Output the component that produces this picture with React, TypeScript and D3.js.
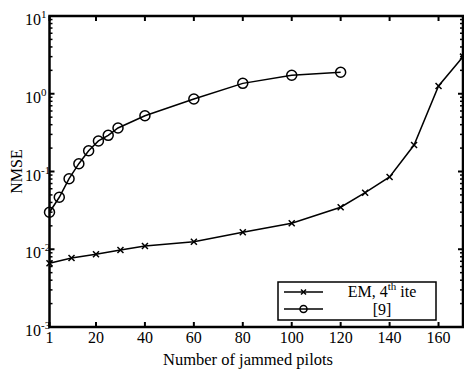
import React from "react";
import * as d3 from "d3";

const emX = [1, 10, 20, 30, 40, 60, 80, 100, 120, 130, 140, 150, 160, 170];
const emY = [0.0066, 0.0077, 0.0086, 0.0098, 0.011, 0.0125, 0.0165, 0.0216, 0.0347, 0.0534, 0.085, 0.219, 1.26, 3.0];
const refX = [1, 5, 9, 13, 17, 21, 25, 29, 40, 60, 80, 100, 120];
const refY = [0.0299, 0.0466, 0.0808, 0.126, 0.185, 0.247, 0.292, 0.363, 0.522, 0.857, 1.36, 1.73, 1.89];
const xTicks = [1, 20, 40, 60, 80, 100, 120, 140, 160];
const yExps = [1, 0, -1, -2, -3];
const legendLabels = ["EM, 4", "[9]"];

const W = 464, H = 371;
const L = 49.5, R = 463, T = 16, B = 327;

export default function App() {
  const x = d3.scaleLinear().domain([1, 170]).range([L, R]);
  const y = d3.scaleLog().domain([1e-3, 10]).range([B, T]);
  const line = d3.line<[number, number]>().x(d => x(d[0])).y(d => y(d[1]));
  const emPts: [number, number][] = emX.map((v, i) => [v, emY[i]]);
  const refPts: [number, number][] = refX.map((v, i) => [v, refY[i]]);
  const minor: number[] = [];
  for (let e = -3; e < 1; e++) for (let k = 2; k <= 9; k++) minor.push(k * Math.pow(10, e));
  const font = '"Liberation Serif", "Times New Roman", Times, serif';
  const lx0 = 278, lx1 = 436, ly0 = 282, ly1 = 320;
  const xs = (px: number, py: number, s = 3) =>
    `M${px - s},${py - s}L${px + s},${py + s}M${px - s},${py + s}L${px + s},${py - s}`;
  return (
    <svg width={W} height={H} style={{ position: "absolute", left: 0, top: 0, background: "#fff", fontFamily: font }}>
      <rect x={0} y={0} width={W} height={H} fill="#fff" />
      <path d={line(refPts) || ""} fill="none" stroke="#000" strokeWidth={1.5} />
      {refPts.map((p, i) => (
        <circle key={"c" + i} cx={x(p[0])} cy={y(p[1])} r={5} fill="none" stroke="#000" strokeWidth={1.5} />
      ))}
      <path d={line(emPts) || ""} fill="none" stroke="#000" strokeWidth={1.5} />
      {emPts.map((p, i) => (
        <path key={"x" + i} d={xs(x(p[0]), y(p[1]))} stroke="#000" strokeWidth={1.5} />
      ))}
      <rect x={L} y={T} width={R - L} height={B - T} fill="none" stroke="#000" strokeWidth={2.5} />
      {xTicks.map(t => (
        <g key={"xt" + t}>
          <line x1={x(t)} x2={x(t)} y1={B} y2={B - 5} stroke="#000" strokeWidth={2} />
          <line x1={x(t)} x2={x(t)} y1={T} y2={T + 5} stroke="#000" strokeWidth={2} />
          <text x={x(t)} y={343} textAnchor="middle" fontSize={16}>{t}</text>
        </g>
      ))}
      {yExps.map(e => (
        <g key={"yt" + e}>
          <line x1={L} x2={L + 5} y1={y(Math.pow(10, e))} y2={y(Math.pow(10, e))} stroke="#000" strokeWidth={2} />
          <line x1={R} x2={R - 5} y1={y(Math.pow(10, e))} y2={y(Math.pow(10, e))} stroke="#000" strokeWidth={2} />
          <text x={25} y={y(Math.pow(10, e)) + 9} fontSize={16}>
            10<tspan dy={-7} fontSize={11}>{e}</tspan>
          </text>
        </g>
      ))}
      {minor.map((m, i) => (
        <g key={"m" + i}>
          <line x1={L} x2={L + 3} y1={y(m)} y2={y(m)} stroke="#000" strokeWidth={1.5} />
          <line x1={R} x2={R - 3} y1={y(m)} y2={y(m)} stroke="#000" strokeWidth={1.5} />
        </g>
      ))}
      <text x={248} y={365} textAnchor="middle" fontSize={16.5}>Number of jammed pilots</text>
      <text transform={`translate(22,${(T + B) / 2}) rotate(-90)`} textAnchor="middle" fontSize={16}>NMSE</text>
      <rect x={lx0} y={ly0} width={lx1 - lx0} height={ly1 - ly0} fill="#fff" stroke="#000" strokeWidth={1.5} />
      <line x1={284} x2={323} y1={292} y2={292} stroke="#000" strokeWidth={1.5} />
      <path d={xs(303.5, 292, 2.5)} stroke="#000" strokeWidth={1.5} />
      <line x1={284} x2={323} y1={309} y2={309} stroke="#000" strokeWidth={1.5} />
      <circle cx={303.5} cy={309} r={3.5} fill="none" stroke="#000" strokeWidth={1.5} />
      <text x={382} y={297} textAnchor="middle" fontSize={16}>
        {legendLabels[0]}<tspan dy={-7} fontSize={11}>th</tspan><tspan dy={7}> ite</tspan>
      </text>
      <text x={382} y={315} textAnchor="middle" fontSize={16}>{legendLabels[1]}</text>
    </svg>
  );
}
